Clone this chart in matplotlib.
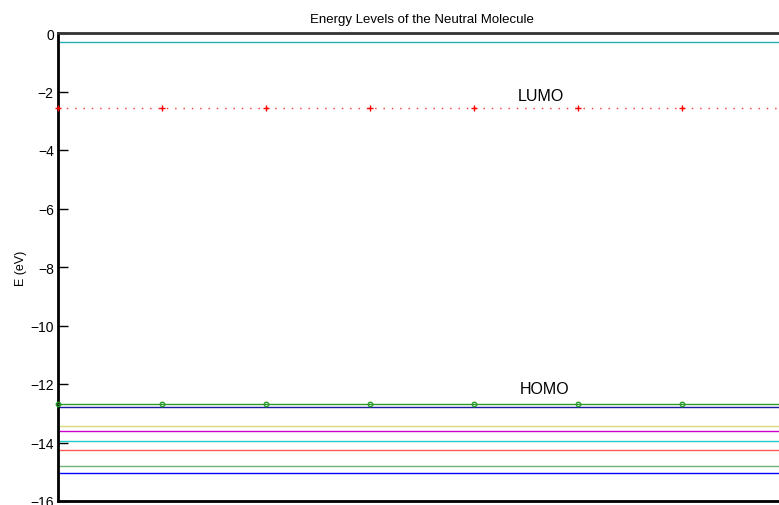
import matplotlib
matplotlib.use("Agg")
import matplotlib.pyplot as plt
import numpy as np

plt.rcParams['font.family'] = ['Liberation Sans', 'DejaVu Sans']

# Orbital energies (eV)
level_energies = [-0.32, -12.79, -13.44, -13.62, -13.96, -14.25, -14.80, -15.05]
level_colors = ['#22b0b0', '#1a1aa0', '#d8d87a', '#cc00cc', '#20c8c8', '#ff5a5a', '#70b070', '#0000ff']
lumo_energy = -2.58
homo_energy = -12.70
marker_x = [0, 1, 2, 3, 4, 5, 6]
yticks = [0, -2, -4, -6, -8, -10, -12, -14, -16]

W, H = 779, 506
fig = plt.figure(figsize=(W / 100, H / 100), dpi=100)
ax = fig.add_axes([58 / W, (H - 502) / H, 728 / W, (502 - 34) / H])
ax.set_xlim(0, 7)
ax.set_ylim(-16, 0)

for e, c in zip(level_energies, level_colors):
    ax.axhline(e, color=c, lw=1.0, zorder=2)

ax.axhline(homo_energy, color='#2a9a2a', lw=1.0, zorder=3)
ax.plot(marker_x, [homo_energy] * len(marker_x), 'o', ms=3.2, mfc='none',
        mec='#2a9a2a', mew=1.0, zorder=4, clip_on=False)

ax.axhline(lumo_energy, color='#ff3030', lw=1.0, ls=(0, (1, 5)), zorder=3)
ax.plot(marker_x, [lumo_energy] * len(marker_x), '+', ms=5, color='#ff0000',
        mew=1.0, zorder=4, clip_on=False)

ax.text(4.64, -2.15, 'LUMO', fontsize=11.5, ha='center', va='center')
ax.text(4.68, -12.17, 'HOMO', fontsize=11.5, ha='center', va='center')

ax.set_yticks(yticks)
ax.set_yticklabels(['0' if t == 0 else '\u2212' + str(-t) for t in yticks])
ax.set_xticks([])
ax.tick_params(axis='y', direction='in', length=7, width=1.0, labelsize=10, pad=3)
ax.set_ylabel('E (eV)', fontsize=9)
ax.yaxis.set_label_coords(-0.042, 0.5)
ax.set_title('Energy Levels of the Neutral Molecule', fontsize=9.5, pad=8)

ax.spines['top'].set_color('#333333')
ax.spines['top'].set_linewidth(2)
ax.spines['left'].set_linewidth(2)
ax.spines['bottom'].set_linewidth(2)
ax.spines['right'].set_visible(False)

fig.savefig('out.png', dpi=100)
